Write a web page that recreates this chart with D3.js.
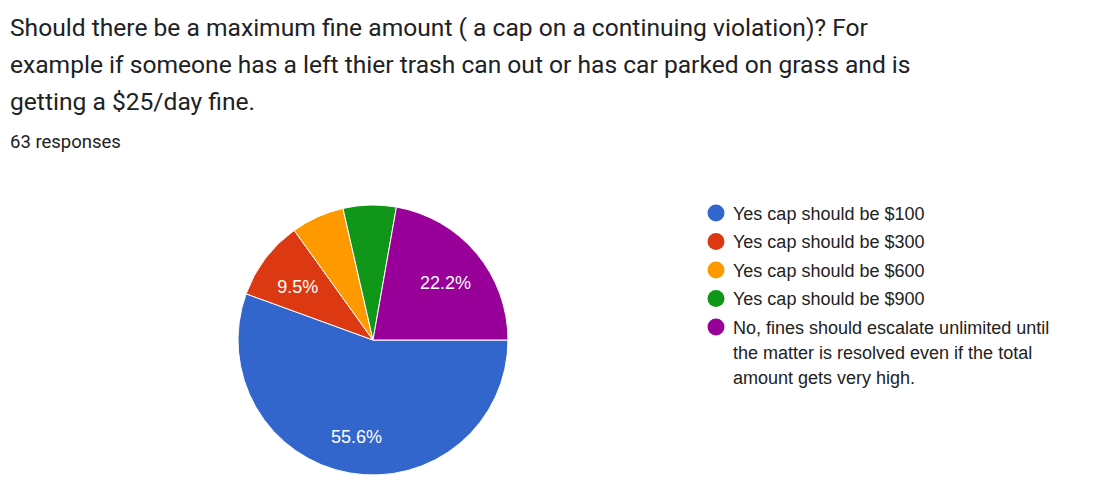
<!DOCTYPE html>
<html>
<head>
<meta charset="utf-8">
<script src="https://cdn.jsdelivr.net/npm/d3@7"></script>
<style>
  body { margin: 0; background: #fff; }
</style>
</head>
<body>
<div id="wrapper"></div>
<script>
const titleLines = [
  "Should there be a maximum fine amount ( a cap on a continuing violation)? For",
  "example if someone has a left thier trash can out or has car parked on grass and is",
  "getting a $25/day fine."
]
const responsesText = "63 responses"

const categories = [
  "Yes cap should be $100",
  "Yes cap should be $300",
  "Yes cap should be $600",
  "Yes cap should be $900",
  "No, fines should escalate unlimited until the matter is resolved even if the total amount gets very high."
]
const counts = [35, 6, 4, 4, 14]
const colors = ["#3366cc", "#dc3912", "#ff9900", "#109618", "#990099"]

const legendLines = [
  ["Yes cap should be $100"],
  ["Yes cap should be $300"],
  ["Yes cap should be $600"],
  ["Yes cap should be $900"],
  ["No, fines should escalate unlimited until", "the matter is resolved even if the total", "amount gets very high."]
]

function draw() {
  const width = 1102
  const height = 483

  const svg = d3.select("#wrapper")
    .append("svg")
      .attr("width", width)
      .attr("height", height)

  // header
  svg.append("g")
    .selectAll("text")
    .data(titleLines)
    .join("text")
      .attr("x", 10)
      .attr("y", (d, i) => 36 + i * 37)
      .attr("font-family", "Roboto, sans-serif")
      .attr("font-size", 24.6)
      .attr("fill", "#202124")
      .text(d => d)

  svg.append("text")
      .attr("x", 10)
      .attr("y", 148)
      .attr("font-family", "Roboto, sans-serif")
      .attr("font-size", 18.5)
      .attr("fill", "#202124")
      .text(responsesText)

  // pie
  const cx = 373, cy = 340, radius = 135
  const total = d3.sum(counts)

  const pie = d3.pie()
    .sort(null)
    .startAngle(Math.PI / 2)
    .endAngle(Math.PI / 2 + 2 * Math.PI)

  const arcs = pie(counts)
  const arc = d3.arc().innerRadius(0).outerRadius(radius)
  const labelArc = d3.arc().innerRadius(radius * 0.7).outerRadius(radius * 0.7)

  const pieG = svg.append("g")
      .attr("transform", `translate(${cx},${cy})`)

  pieG.selectAll("path")
    .data(arcs)
    .join("path")
      .attr("d", arc)
      .attr("fill", (d, i) => colors[i])
      .attr("stroke", "#fff")
      .attr("stroke-width", 1)

  const fmt = d3.format(".1%")
  pieG.selectAll("text")
    .data(arcs.filter(d => d.data / total > 0.08))
    .join("text")
      .attr("transform", d => `translate(${labelArc.centroid(d)})`)
      .attr("text-anchor", "middle")
      .attr("dy", "0.55em")
      .attr("font-family", "Arial, 'Liberation Sans', sans-serif")
      .attr("font-size", 18)
      .attr("fill", "#fff")
      .text(d => fmt(d.data / total))

  // legend
  const legend = svg.append("g")
      .attr("transform", "translate(716,213)")

  const items = legend.selectAll("g")
    .data(legendLines)
    .join("g")
      .attr("transform", (d, i) => `translate(0,${i * 28.5})`)

  items.append("circle")
      .attr("r", 8.5)
      .attr("fill", (d, i) => colors[i])

  items.append("text")
      .attr("x", 17)
      .attr("font-family", "Arial, 'Liberation Sans', sans-serif")
      .attr("font-size", 18)
      .attr("fill", "#222")
    .selectAll("tspan")
    .data(d => d)
    .join("tspan")
      .attr("x", 17)
      .attr("y", (d, i) => 6.5 + i * 25)
      .text(d => d)
}
draw()
</script>
</body>
</html>
